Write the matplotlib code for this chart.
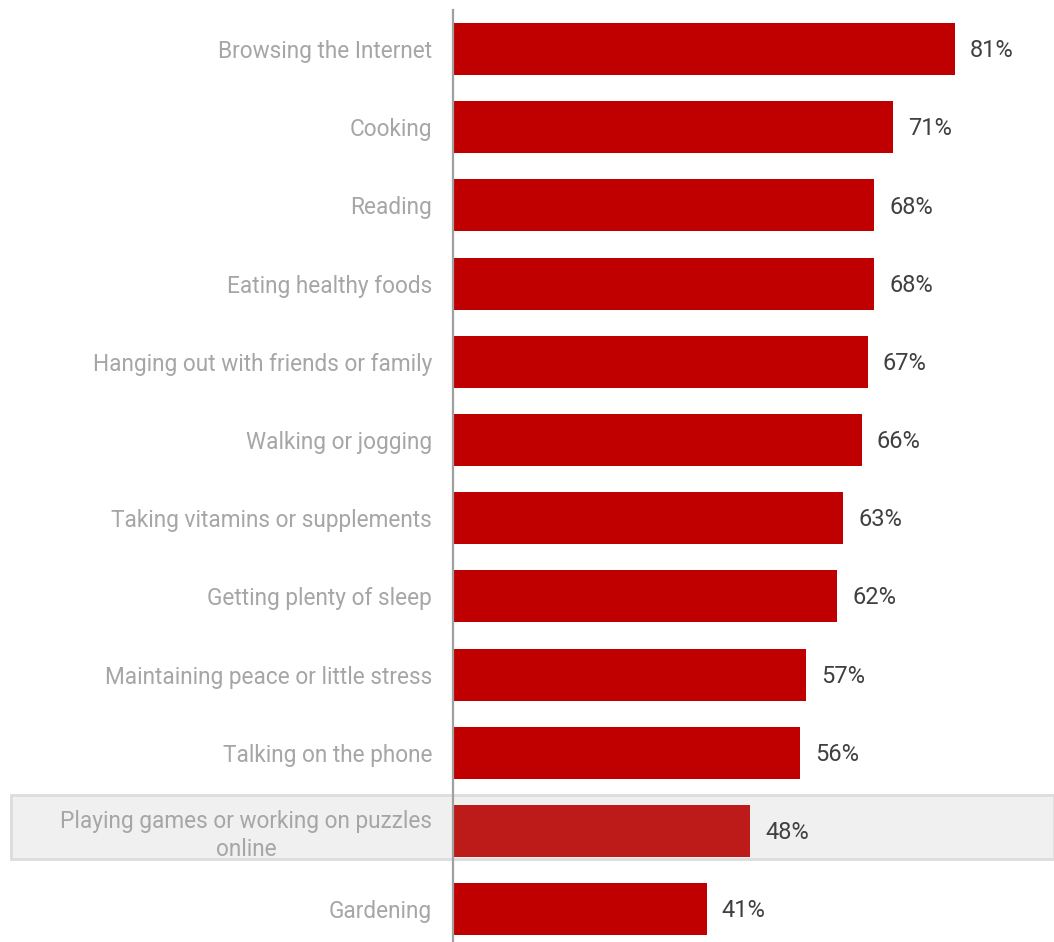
import matplotlib.pyplot as plt
import matplotlib.transforms as mtransforms
from matplotlib.patches import Rectangle

plt.rcParams['font.family'] = ['Roboto', 'DejaVu Sans']

activities = [
    "Browsing the Internet",
    "Cooking",
    "Reading",
    "Eating healthy foods",
    "Hanging out with friends or family",
    "Walking or jogging",
    "Taking vitamins or supplements",
    "Getting plenty of sleep",
    "Maintaining peace or little stress",
    "Talking on the phone",
    "Playing games or working on puzzles\nonline",
    "Gardening",
]
shares = [81, 71, 68, 68, 67, 66, 63, 62, 57, 56, 48, 41]
highlight = "Playing games or working on puzzles\nonline"

fig = plt.figure(figsize=(10.54, 9.42), dpi=100)
ax = fig.add_axes([453 / 1054, 0, 1 - 453 / 1054, 1 - 10 / 942])

ypos = list(range(len(activities)))
colors = ["#BD1A1A" if a == highlight else "#C00000" for a in activities]
ax.barh(ypos, shares, height=0.665, color=colors, zorder=3)

ax.set_xlim(0, 97)
ax.set_ylim(11.42, -0.5)

# grey band behind the highlighted row, running across the whole figure
hi = activities.index(highlight)
trans = mtransforms.blended_transform_factory(fig.transFigure, ax.transData)
band = Rectangle((11 / 1054, hi - 0.46), 1 - 11 / 1054, 0.82,
                 transform=trans, facecolor="#F0F0F0", edgecolor="#DCDCDC",
                 linewidth=2, clip_on=False, zorder=-1)
fig.patches.append(band)

for y, v in zip(ypos, shares):
    ax.text(v + 2.4, y + 0.02, f"{v}%", va="center", ha="left",
            fontsize=17, color="#404040", zorder=4)

ax.set_yticks(ypos)
ax.set_yticklabels(activities, fontsize=16.3, color="#A6A6A6",
                   linespacing=1.25, multialignment="center")
ax.tick_params(axis="y", length=0, pad=15)
ax.set_xticks([])

for s in ["top", "right", "bottom"]:
    ax.spines[s].set_visible(False)
ax.spines["left"].set_color("#A0A0A0")
ax.spines["left"].set_linewidth(1.6)
ax.spines["left"].set_zorder(5)
ax.patch.set_alpha(0)

fig.savefig("out.png", dpi=100)
